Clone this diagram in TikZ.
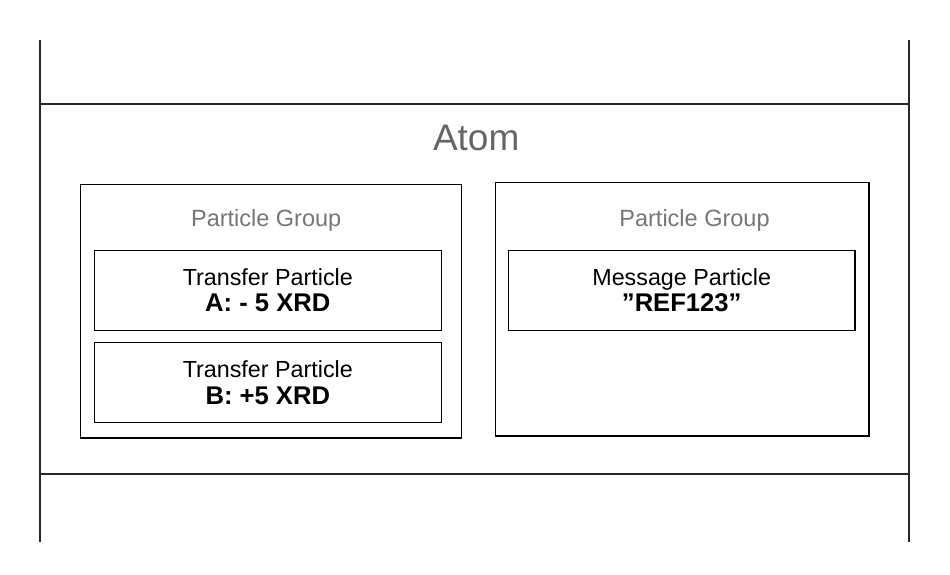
\documentclass[tikz,border=0pt]{standalone}
\usepackage{fontspec}
\setmainfont{Liberation Sans}
\usetikzlibrary{positioning}
\definecolor{atomgray}{RGB}{102,102,102}
\definecolor{groupgray}{RGB}{118,118,118}
\newcommand{\pvalue}[1]{{\fontsize{25.6}{26.7}\selectfont\bfseries #1}}

\begin{document}
\begin{tikzpicture}[
    x=1pt, y=-1pt,
    frameline/.style={line width=2pt, draw=black!85},
    gbox/.style={rectangle, draw=black, line width=1.3pt, minimum width=#1, minimum height=253.7pt, inner sep=0pt},
    pbox/.style={rectangle, draw=black, line width=1.3pt, minimum width=347pt, minimum height=80pt,
                 inner sep=0pt, align=center, font=\fontsize{23.3}{26.7}\selectfont},
    glabel/.style={font=\fontsize{23.5}{27}\selectfont, text=groupgray, anchor=base}
  ]
    \useasboundingbox (0,0) rectangle (950,574);

    % Atom frame
    \draw[frameline] (40.3,40) -- (40.3,541.5);
    \draw[frameline] (909,40) -- (909,541.5);
    \draw[frameline] (40.3,104) -- (909,104);
    \draw[frameline] (40.3,474) -- (909,474);
    \node[font=\fontsize{37}{42}\selectfont, text=atomgray, anchor=base] (atom) at (476.2,150.7) {Atom};

    % Particle groups
    \node[gbox=380.6pt] (groupA) at (271,311.2) {};
    \node[gbox=373.3pt] (groupB) at (682.3,309.2) {};
    \node[glabel] (labelA) at (266.2,226.7) {Particle Group};
    \node[glabel] (labelB) at (694.5,226.7) {Particle Group};

    % Particles
    \node[pbox] (transferA) at (267.8,290.3) {Transfer Particle\\\pvalue{A: - 5 XRD}};
    \node[pbox] (transferB) at (267.8,382.8) {Transfer Particle\\\pvalue{B: +5 XRD}};
    \node[pbox, minimum width=346.7pt] (message) at (681.7,290.3) {Message Particle\\\pvalue{”REF123”}};
  \end{tikzpicture}
\end{document}
